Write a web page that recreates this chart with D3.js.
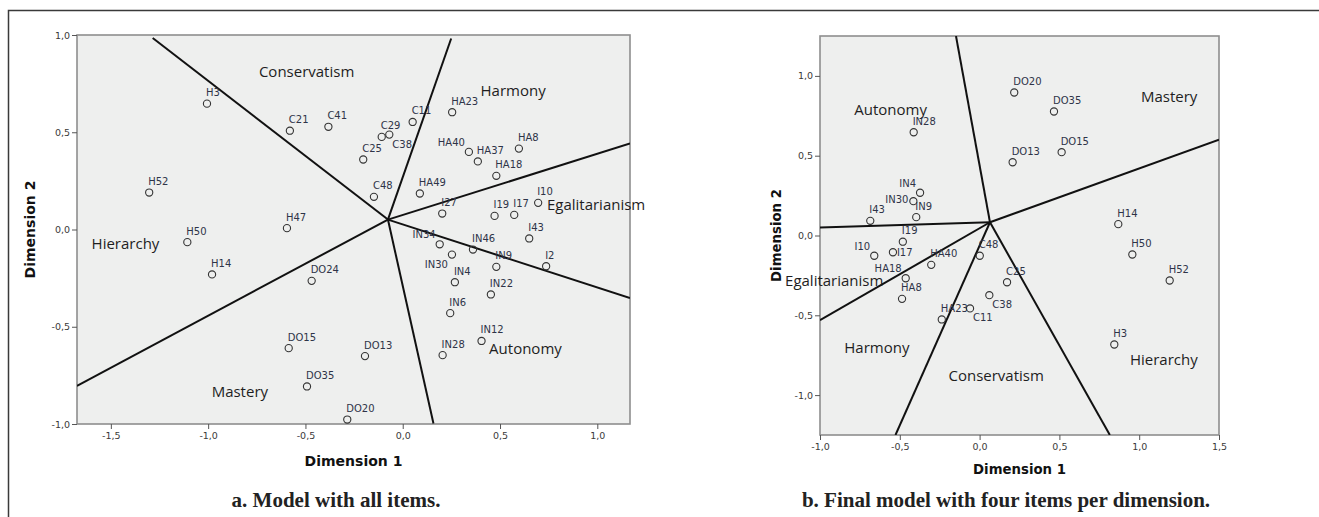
<!DOCTYPE html>
<html>
<head>
<meta charset="utf-8">
<script src="https://cdn.jsdelivr.net/npm/d3@7"></script>
<style>
    body { margin: 0; background: #ffffff; }
    svg { display: block; }
</style>
</head>
<body>
<svg id="chart" width="1319" height="517"></svg>
<script>
// ---- data: panel a (all items) ----
const itemsA = ['H3', 'C21', 'C41', 'C11', 'C29', 'C38', 'C25', 'C48', 'HA23', 'HA40', 'HA37', 'HA8', 'HA18', 'HA49',
    'I27', 'I19', 'I17', 'I10', 'I43', 'I2', 'IN34', 'IN46', 'IN30', 'IN9', 'IN4', 'IN22', 'IN6', 'IN12', 'IN28',
    'H52', 'H47', 'H50', 'H14', 'DO24', 'DO15', 'DO13', 'DO35', 'DO20'];
const dim1A = [-1.006, -0.580, -0.382, 0.051, -0.108, -0.069, -0.203, -0.148, 0.254, 0.340, 0.386, 0.597, 0.481, 0.088,
    0.203, 0.472, 0.573, 0.696, 0.650, 0.737, 0.190, 0.361, 0.253, 0.481, 0.268, 0.453, 0.244, 0.405, 0.205,
    -1.303, -0.595, -1.107, -0.980, -0.468, -0.586, -0.194, -0.492, -0.285];
const dim2A = [0.647, 0.508, 0.528, 0.553, 0.476, 0.488, 0.360, 0.168, 0.603, 0.399, 0.350, 0.416, 0.276, 0.185,
    0.082, 0.070, 0.075, 0.137, -0.046, -0.189, -0.076, -0.103, -0.129, -0.192, -0.271, -0.334, -0.430, -0.573, -0.646,
    0.190, 0.007, -0.065, -0.231, -0.264, -0.610, -0.651, -0.807, -0.977];

// region boundaries: rays from a common centre to the plot edge
const centreA = [-0.076, 0.051];
const boundEndXA = [-1.285, 0.249, 1.168, 1.168, 0.158, -1.674];
const boundEndYA = [0.985, 0.982, 0.442, -0.352, -0.997, -0.804];

const regionNames = ['Conservatism', 'Harmony', 'Egalitarianism', 'Autonomy', 'Mastery', 'Hierarchy'];
const regionXA = [-0.739, 0.400, 0.741, 0.444, -0.982, -1.599];
const regionYA = [0.810, 0.711, 0.125, -0.612, -0.833, -0.076];

const xTicksA = [-1.5, -1.0, -0.5, 0.0, 0.5, 1.0];
const yTicksA = [-1.0, -0.5, 0.0, 0.5, 1.0];

// ---- data: panel b (four items per dimension) ----
const itemsB = ['DO20', 'DO35', 'DO15', 'DO13', 'IN28', 'IN4', 'IN30', 'IN9', 'I43', 'I19', 'I10', 'I17',
    'HA40', 'HA18', 'HA8', 'HA23', 'C48', 'C25', 'C38', 'C11', 'H14', 'H50', 'H52', 'H3'];
const dim1B = [0.217, 0.466, 0.514, 0.207, -0.413, -0.373, -0.415, -0.397, -0.685, -0.481, -0.660, -0.543,
    -0.303, -0.463, -0.486, -0.237, 0.001, 0.172, 0.061, -0.060, 0.869, 0.957, 1.191, 0.844];
const dim2B = [0.896, 0.777, 0.522, 0.459, 0.647, 0.268, 0.215, 0.115, 0.092, -0.039, -0.127, -0.105,
    -0.184, -0.268, -0.397, -0.526, -0.127, -0.293, -0.374, -0.457, 0.071, -0.119, -0.282, -0.683];

const centreB = [0.065, 0.083];
const boundEndXB = [-0.148, 1.5, 0.816, -0.527, -1.0, -1.0];
const boundEndYB = [1.25, 0.600, -1.25, -1.25, -0.531, 0.050];

const regionXB = [-0.195, -0.848, -1.219, -0.785, 1.011, 0.942];
const regionYB = [-0.882, -0.708, -0.286, 0.789, 0.867, -0.777];

const xTicksB = [-1.0, -0.5, 0.0, 0.5, 1.0, 1.5];
const yTicksB = [-1.0, -0.5, 0.0, 0.5, 1.0];

// label placement where SPSS moved a label off its default spot
const moveA = {HA40: 'ul', C38: 'br', IN34: 'ul', IN30: 'bl'};
const moveB = {IN4: 'ul', IN30: 'l', I10: 'ul', I17: 'r', HA18: 'ul', C38: 'br', C11: 'br'};

const svg = d3.select('#chart');

// outer frame of the figure
svg.append('path')
    .attr('d', 'M8.5,517 V10.5 H1319')
    .attr('fill', 'none')
    .attr('stroke', '#3a3a3a')
    .attr('stroke-width', 1.5);

function labelPos(mode, cx, cy) {
    switch (mode) {
        case 'ul': return {x: cx - 4, y: cy - 6, anchor: 'end'};
        case 'bl': return {x: cx - 4, y: cy + 13, anchor: 'end'};
        case 'br': return {x: cx + 3, y: cy + 13, anchor: 'start'};
        case 'l': return {x: cx - 5, y: cy + 2, anchor: 'end'};
        case 'r': return {x: cx + 4, y: cy + 3.5, anchor: 'start'};
        default: return {x: cx - 1, y: cy - 7.5, anchor: 'start'};
    }
}

function drawPanel(p) {
    let x = d3.scaleLinear().domain(p.xDomain).range([p.left, p.right]),
        y = d3.scaleLinear().domain(p.yDomain).range([p.bottom, p.top]);

    let g = svg.append('g');

    // plot background
    g.append('rect')
        .attr('x', p.left)
        .attr('y', p.top)
        .attr('width', p.right - p.left)
        .attr('height', p.bottom - p.top)
        .attr('fill', '#eeefee')
        .attr('stroke', '#8e8e8e')
        .attr('stroke-width', 1.6);

    // axes
    let fmt = d => d3.format('.1f')(d).replace('.', ',').replace('−', '-');
    let xAxis = g.append('g')
        .attr('transform', 'translate(0,' + p.bottom + ')')
        .call(d3.axisBottom(x).tickValues(p.xTicks).tickSize(5).tickPadding(3).tickFormat(fmt));
    let yAxis = g.append('g')
        .attr('transform', 'translate(' + p.left + ',0)')
        .call(d3.axisLeft(y).tickValues(p.yTicks).tickSize(5).tickPadding(2).tickFormat(fmt));
    [xAxis, yAxis].forEach(a => {
        a.select('.domain').remove();
        a.selectAll('line').attr('stroke', '#555').attr('stroke-width', 1);
        a.selectAll('text')
            .attr('fill', '#3a3a3a')
            .attr('font-family', 'DejaVu Sans')
            .attr('font-size', p.tickSize);
    });

    // region boundaries
    let clip = 'clip-' + p.id;
    g.append('clipPath').attr('id', clip)
        .append('rect')
        .attr('x', p.left).attr('y', p.top)
        .attr('width', p.right - p.left).attr('height', p.bottom - p.top);
    g.append('g')
        .attr('clip-path', 'url(#' + clip + ')')
        .selectAll('line')
        .data(p.endX.map((ex, i) => ({x: ex, y: p.endY[i]})))
        .enter().append('line')
        .attr('x1', x(p.centre[0]))
        .attr('y1', y(p.centre[1]))
        .attr('x2', d => x(d.x))
        .attr('y2', d => y(d.y))
        .attr('stroke', '#111')
        .attr('stroke-width', 2);

    // region names
    g.selectAll('.region')
        .data(regionNames.map((n, i) => ({name: n, x: p.regionX[i], y: p.regionY[i]})))
        .enter().append('text')
        .attr('class', 'region')
        .attr('x', d => x(d.x))
        .attr('y', d => y(d.y) + 5)
        .attr('font-family', 'Open Sans')
        .attr('font-size', 15)
        .attr('fill', '#1e1e1e')
        .text(d => d.name);

    // items
    let pts = p.items.map((n, i) => ({name: n, x: p.dim1[i], y: p.dim2[i]}));
    g.selectAll('.pt')
        .data(pts)
        .enter().append('circle')
        .attr('class', 'pt')
        .attr('cx', d => x(d.x))
        .attr('cy', d => y(d.y))
        .attr('r', 3.6)
        .attr('fill', 'none')
        .attr('stroke', '#333')
        .attr('stroke-width', 1.1);
    g.selectAll('.pt-label')
        .data(pts)
        .enter().append('text')
        .attr('class', 'pt-label')
        .each(function(d) {
            let pos = labelPos(p.move[d.name], x(d.x), y(d.y));
            d3.select(this)
                .attr('x', pos.x)
                .attr('y', pos.y)
                .attr('text-anchor', pos.anchor);
        })
        .attr('font-family', 'DejaVu Sans')
        .attr('font-size', 10)
        .attr('fill', '#2e3448')
        .text(d => d.name);

    // axis titles
    g.append('text')
        .attr('x', (p.left + p.right) / 2)
        .attr('y', p.xTitleY)
        .attr('text-anchor', 'middle')
        .attr('font-family', 'DejaVu Sans')
        .attr('font-weight', 'bold')
        .attr('font-size', p.titleSize)
        .attr('fill', '#111')
        .text('Dimension 1');
    g.append('text')
        .attr('transform', 'translate(' + p.yTitleX + ',' + (p.top + p.bottom) / 2 + ') rotate(-90)')
        .attr('text-anchor', 'middle')
        .attr('font-family', 'DejaVu Sans')
        .attr('font-weight', 'bold')
        .attr('font-size', p.titleSize)
        .attr('fill', '#111')
        .text('Dimension 2');

    // caption
    g.append('text')
        .attr('x', p.captionX)
        .attr('y', 507)
        .attr('text-anchor', 'middle')
        .attr('font-family', 'Liberation Serif')
        .attr('font-weight', 'bold')
        .attr('font-size', 21)
        .attr('fill', '#222')
        .text(p.caption);
}

drawPanel({
    id: 'a', left: 77, right: 630, top: 35, bottom: 424,
    xDomain: [-1.674, 1.168], yDomain: [-1, 1],
    xTicks: xTicksA, yTicks: yTicksA, tickSize: 9.5,
    items: itemsA, dim1: dim1A, dim2: dim2A, move: moveA,
    centre: centreA, endX: boundEndXA, endY: boundEndYA,
    regionX: regionXA, regionY: regionYA,
    titleSize: 14, xTitleY: 466, yTitleX: 35,
    caption: 'a. Model with all items.', captionX: 336
});

drawPanel({
    id: 'b', left: 820, right: 1219, top: 36, bottom: 435,
    xDomain: [-1, 1.5], yDomain: [-1.25, 1.25],
    xTicks: xTicksB, yTicks: yTicksB, tickSize: 9.5,
    items: itemsB, dim1: dim1B, dim2: dim2B, move: moveB,
    centre: centreB, endX: boundEndXB, endY: boundEndYB,
    regionX: regionXB, regionY: regionYB,
    titleSize: 13.3, xTitleY: 474, yTitleX: 781,
    caption: 'b. Final model with four items per dimension.', captionX: 1006
});
</script>
</body>
</html>
